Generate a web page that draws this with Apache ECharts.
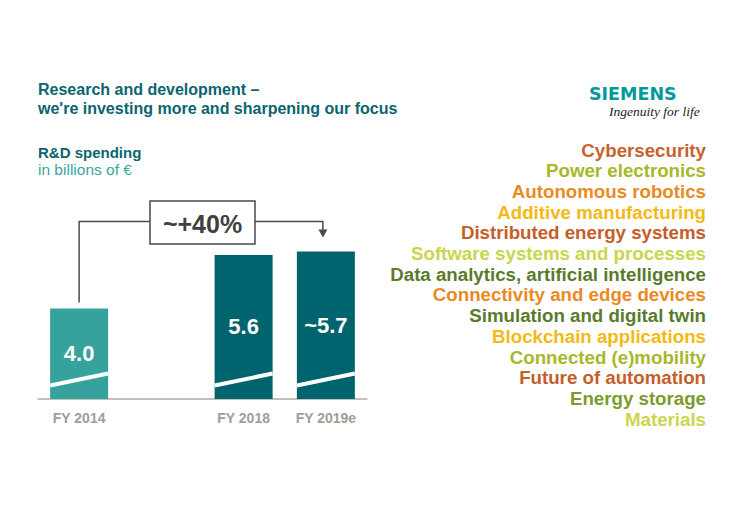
<!DOCTYPE html>
<html>
<head>
<meta charset="utf-8">
<script src="https://cdn.jsdelivr.net/npm/echarts@6/dist/echarts.min.js"></script>
<style>
html,body{margin:0;padding:0;background:#fff;}
#chart{width:735px;height:520px;}
</style>
</head>
<body>
<div id="chart"></div>
<script>
// ---- data ----
const categories = ['FY 2014', '', 'FY 2018', 'FY 2019e'];
const rdSpending = [4.0, null, 5.6, 5.7];
const valueLabels = ['4.0', '', '5.6', '~5.7'];
const growthLabel = '~+40%';
const growthFrom = 0;
const growthTo = 3;
const topics = [
  'Cybersecurity', 'Power electronics', 'Autonomous robotics', 'Additive manufacturing',
  'Distributed energy systems', 'Software systems and processes', 'Data analytics, artificial intelligence',
  'Connectivity and edge devices', 'Simulation and digital twin', 'Blockchain applications',
  'Connected (e)mobility', 'Future of automation', 'Energy storage', 'Materials'
];
// ---- styles ----
const topicPalette = ['#c8622b', '#a8b82a', '#ea8a1f', '#f5b914', '#c45e2a', '#c9d54c', '#5b7a2c',
  '#ea8a1f', '#5b7a2c', '#f5b914', '#a8b82a', '#c45e2a', '#7d9a2c', '#cbd64e'];
const DARK_TEAL = '#00646e';
const LIGHT_TEAL = '#36a29d';
const FONT = '"Liberation Sans", Arial, sans-serif';
const Y_MIN = 1.3, Y_MAX = 7;
const BAR_W = 58;

const chart = echarts.init(document.getElementById('chart'), null, {renderer: 'svg'});

const barData = rdSpending.map(v => v == null ? '-' : v);
const breakData = rdSpending.map((v, i) => v == null ? null : [i, v]).filter(d => d);

const option = {
  backgroundColor: '#ffffff',
  animation: false,
  title: [
    {text: 'Research and development –\nwe\'re investing more and sharpening our focus', left: 38, top: 80, padding: 0,
      textStyle: {fontFamily: FONT, fontSize: 16, fontWeight: 'bold', color: '#0a6570', lineHeight: 19}},
    {text: 'R&D spending', left: 38, top: 143, padding: 0,
      textStyle: {fontFamily: FONT, fontSize: 15, fontWeight: 'bold', color: '#0a6570', lineHeight: 18}},
    {text: 'in billions of €', left: 38, top: 160, padding: 0,
      textStyle: {fontFamily: FONT, fontSize: 15.5, fontWeight: 'normal', color: '#3aa6a2', lineHeight: 18}},
    {text: 'SIEMENS', left: 589, top: 84, padding: 0,
      textStyle: {fontFamily: '"DejaVu Sans", sans-serif', fontSize: 17.5, fontWeight: 'bold', color: '#009999', lineHeight: 20}},
    {text: 'Ingenuity for life', left: 609, top: 103, padding: 0,
      textStyle: {fontFamily: '"Liberation Serif", serif', fontSize: 13.5, fontStyle: 'italic', fontWeight: 'normal', color: '#222222', lineHeight: 16}}
  ],
  grid: {left: 38, right: 368, top: 208, bottom: 121, containLabel: false},
  xAxis: {
    type: 'category',
    data: categories,
    boundaryGap: true,
    axisTick: {show: false},
    axisLine: {lineStyle: {color: '#b3ada2', width: 1.5}},
    axisLabel: {color: '#a29d95', fontFamily: FONT, fontSize: 14, fontWeight: 'bold', margin: 12}
  },
  yAxis: {type: 'value', min: Y_MIN, max: Y_MAX, show: false, splitLine: {show: false}},
  series: [
    {
      type: 'bar',
      data: barData,
      barWidth: BAR_W,
      itemStyle: {color: p => p.dataIndex === 0 ? LIGHT_TEAL : DARK_TEAL},
      label: {
        show: true, position: 'inside', color: '#ffffff',
        fontFamily: FONT, fontSize: 22, fontWeight: 'bold',
        formatter: p => valueLabels[p.dataIndex]
      },
      z: 2
    },
    {
      type: 'custom',
      data: breakData,
      z: 3,
      silent: true,
      clip: false,
      renderItem: (params, api) => {
        const base = api.coord([api.value(0), Y_MIN]);
        const h = BAR_W / 2;
        return {
          type: 'line',
          shape: {x1: base[0] - h, y1: base[1] - 13.5, x2: base[0] + h, y2: base[1] - 25.5},
          style: {stroke: '#ffffff', lineWidth: 4}
        };
      }
    },
    {
      type: 'custom',
      data: [[growthFrom, growthTo]],
      z: 4,
      silent: true,
      clip: false,
      renderItem: (params, api) => {
        const i0 = api.value(0), i1 = api.value(1);
        const a = api.coord([i0, rdSpending[i0]]);
        const b = api.coord([i1, rdSpending[i1]]);
        const levelY = Math.min(a[1], b[1]) - 30;
        const cx = (a[0] + b[0]) / 2;
        const bw = 105, bh = 43;
        const tipY = b[1] - 14;
        const stroke = {stroke: '#4a4a4a', lineWidth: 1.5, fill: null};
        return {
          type: 'group',
          children: [
            {type: 'polyline', shape: {points: [[a[0], a[1] - 6], [a[0], levelY], [cx - bw / 2, levelY]]}, style: stroke},
            {type: 'polyline', shape: {points: [[cx + bw / 2, levelY], [b[0] - 3, levelY], [b[0] - 3, tipY - 7]]}, style: stroke},
            {type: 'polygon', shape: {points: [[b[0] - 7.5, tipY - 8], [b[0] + 1.5, tipY - 8], [b[0] - 3, tipY]]}, style: {fill: '#4a4a4a'}},
            {type: 'rect', shape: {x: cx - bw / 2, y: levelY - bh / 2 + 1, width: bw, height: bh}, style: {stroke: '#4a4a4a', lineWidth: 1.5, fill: '#ffffff'}},
            {type: 'text', style: {text: growthLabel, x: cx, y: levelY + 2, align: 'center', verticalAlign: 'middle',
              fontFamily: FONT, fontSize: 25, fontWeight: 'bold', fill: '#404040'}}
          ]
        };
      }
    }
  ],
  graphic: topics.map((t, i) => ({
    type: 'text',
    x: 706,
    y: 150 + i * 20.7,
    style: {
      text: t, fill: topicPalette[i],
      font: 'bold 18.7px "Liberation Sans", Arial, sans-serif',
      textAlign: 'right', align: 'right', textVerticalAlign: 'middle', verticalAlign: 'middle'
    }
  }))
};
chart.setOption(option);
</script>
</body>
</html>
